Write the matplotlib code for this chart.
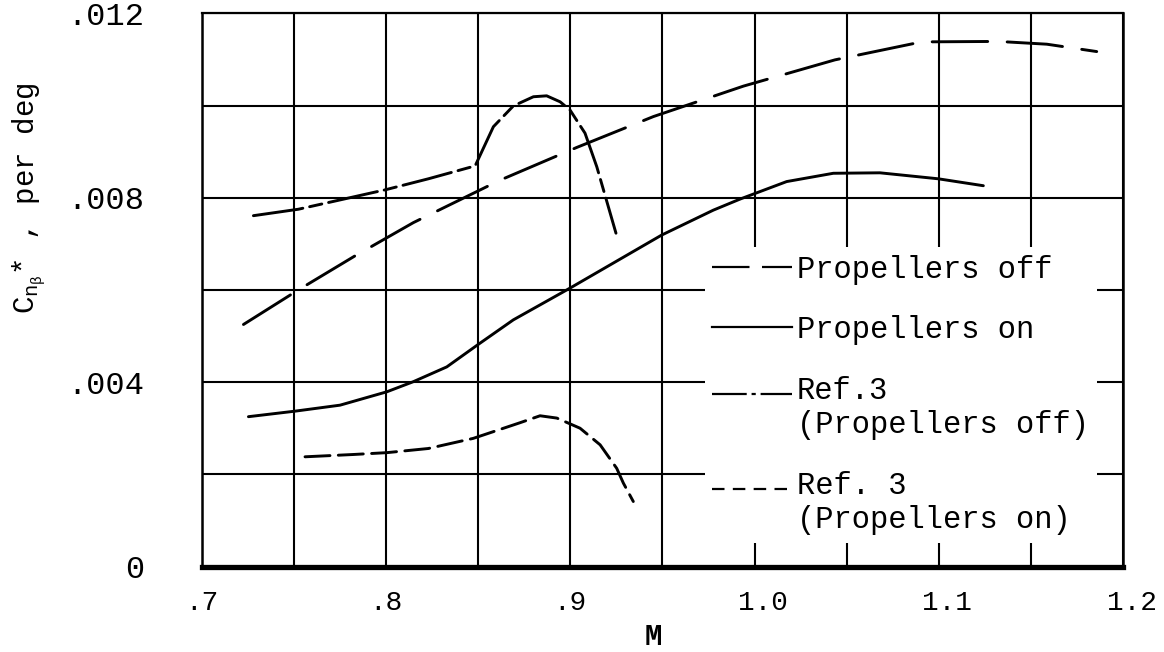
import numpy as np
import matplotlib
matplotlib.use("Agg")
import matplotlib.pyplot as plt
from matplotlib.lines import Line2D
from matplotlib.legend_handler import HandlerLine2D
from matplotlib.ticker import MultipleLocator
from matplotlib.transforms import ScaledTranslation

plt.rcParams['font.family'] = ['Liberation Mono', 'DejaVu Sans Mono', 'DejaVu Sans']
plt.rcParams['mathtext.fontset'] = 'custom'
plt.rcParams['mathtext.rm'] = 'Liberation Mono'
plt.rcParams['mathtext.it'] = 'Liberation Mono'
plt.rcParams['mathtext.bf'] = 'Liberation Mono:bold'
plt.rcParams['lines.scale_dashes'] = False

# ---------------- data ----------------
m_props_off = [0.7227, 0.7525, 0.7833, 0.8149, 0.8619, 0.9035, 0.9451,
               0.9939, 1.0436, 1.0906, 1.1322, 1.1585, 1.1856]
cn_props_off = [0.00525, 0.00600, 0.00674, 0.00746, 0.00838, 0.00909, 0.00976,
                0.01042, 0.01099, 0.01138, 0.01139, 0.01133, 0.01117]

m_props_on = [0.7254, 0.7507, 0.7751, 0.8005, 0.8149, 0.8330, 0.8498, 0.8691,
              0.8999, 0.9496, 0.9776, 0.9921, 1.0174, 1.0427, 1.0680, 1.0997, 1.1241]
cn_props_on = [0.00325, 0.00337, 0.00350, 0.00379, 0.00401, 0.00433, 0.00481, 0.00535,
               0.00604, 0.00719, 0.00773, 0.00797, 0.00835, 0.00853, 0.00854, 0.00841, 0.00826]

m_ref3_off = [0.7281, 0.7525, 0.7995, 0.8230, 0.8484, 0.8583, 0.8691, 0.8800,
              0.8872, 0.8945, 0.8999, 0.9080, 0.9144, 0.9248]
cn_ref3_off = [0.00761, 0.00775, 0.00817, 0.00841, 0.00869, 0.00954, 0.00999, 0.01019,
               0.01021, 0.01008, 0.00990, 0.00940, 0.00867, 0.00723]

m_ref3_on = [0.7561, 0.7823, 0.8005, 0.8230, 0.8474, 0.8728, 0.8836, 0.8927,
             0.9053, 0.9162, 0.9252, 0.9288, 0.9342]
cn_ref3_on = [0.00238, 0.00243, 0.00247, 0.00256, 0.00278, 0.00312, 0.00327, 0.00322,
              0.00300, 0.00264, 0.00213, 0.00181, 0.00141]

x_ticks = [0.7, 0.8, 0.9, 1.0, 1.1, 1.2]
x_tick_labels = ['.7', '.8', '.9', '1.0', '1.1', '1.2']
y_ticks = [0.0, 0.004, 0.008, 0.012]
y_tick_labels = ['0', '.004', '.008', '.012']

legend_labels = ['Propellers off', 'Propellers on',
                 'Ref.3\n(Propellers off)', 'Ref. 3\n(Propellers on)']


class LiftedHandler(HandlerLine2D):
    """Legend key line lifted so it sits beside the first line of a two-line label."""
    def __init__(self, lift=0.0, **kw):
        super().__init__(**kw)
        self.lift = lift

    def create_artists(self, legend, orig_handle, xdescent, ydescent,
                       width, height, fontsize, trans):
        arts = super().create_artists(legend, orig_handle, xdescent, ydescent,
                                      width, height, fontsize, trans)
        for a in arts:
            a.set_ydata(np.asarray(a.get_ydata(), float) + self.lift * fontsize)
        return arts


fig = plt.figure(figsize=(11.64, 6.52), dpi=100)
ax = fig.add_axes([0.1732, 0.1311, 0.7918, 0.8485])

lw = 2.1
ax.plot(m_props_off, cn_props_off, color='black', lw=lw, dashes=(40, 14),
        solid_capstyle='round', dash_capstyle='round', solid_joinstyle='round')
ax.plot(m_props_on, cn_props_on, color='black', lw=lw, solid_capstyle='round',
        solid_joinstyle='round')
ax.plot(m_ref3_off, cn_ref3_off, color='black', lw=lw, dashes=(36, 5, 9, 5),
        dash_capstyle='round', dash_joinstyle='round')
ax.plot(m_ref3_on, cn_ref3_on, color='black', lw=lw, dashes=(18, 6),
        dash_capstyle='round', dash_joinstyle='round')

ax.set_xlim(0.7, 1.2)
ax.set_ylim(0.0, 0.012)
ax.set_xticks(x_ticks, labels=x_tick_labels)
ax.set_yticks(y_ticks, labels=y_tick_labels)
ax.xaxis.set_minor_locator(MultipleLocator(0.05))
ax.yaxis.set_minor_locator(MultipleLocator(0.002))
ax.set_axisbelow(True)
ax.grid(True, which='both', color='black', lw=1.5)

ax.tick_params(axis='x', which='both', length=0, pad=17, labelsize=20)
ax.tick_params(axis='y', which='both', length=0, pad=41, labelsize=23)

# the typed "1.x" labels sit a little to the right of their grid lines
for lab in ax.get_xticklabels():
    if len(lab.get_text()) == 3:
        lab.set_transform(lab.get_transform() +
                          ScaledTranslation(6 / 72, 0, fig.dpi_scale_trans))

for side, w in (('left', 1.8), ('top', 1.6), ('right', 1.8), ('bottom', 3.8)):
    ax.spines[side].set_linewidth(w)
    ax.spines[side].set_color('black')

ax.set_xlabel('M', fontsize=21, fontweight='bold')
ax.xaxis.set_label_coords(0.4903, -0.102)
ax.set_ylabel(r'C$_{n_\beta}$* , per deg', fontsize=21)
ax.yaxis.set_label_coords(-0.167, 0.666)

h_off = Line2D([], [], color='black', lw=1.6, dashes=(27, 9))
h_on = Line2D([], [], color='black', lw=1.6)
h_r3off = Line2D([], [], color='black', lw=1.6, dashes=(25, 3.5, 3, 3.5))
h_r3on = Line2D([], [], color='black', lw=1.6, dashes=(9, 6))

leg = ax.legend([h_off, h_on, h_r3off, h_r3on], legend_labels,
                loc='upper left', bbox_to_anchor=(0.546, 0.5776),
                borderaxespad=0, borderpad=0.25, frameon=True, fancybox=False,
                framealpha=1, facecolor='white', edgecolor='none',
                prop={'size': 22}, handlelength=2.6, handletextpad=0.17,
                labelspacing=1.0,
                handler_map={h_r3off: LiftedHandler(lift=0.5),
                             h_r3on: LiftedHandler(lift=0.5)})

fig.savefig('out.png', dpi=100, facecolor='white')
